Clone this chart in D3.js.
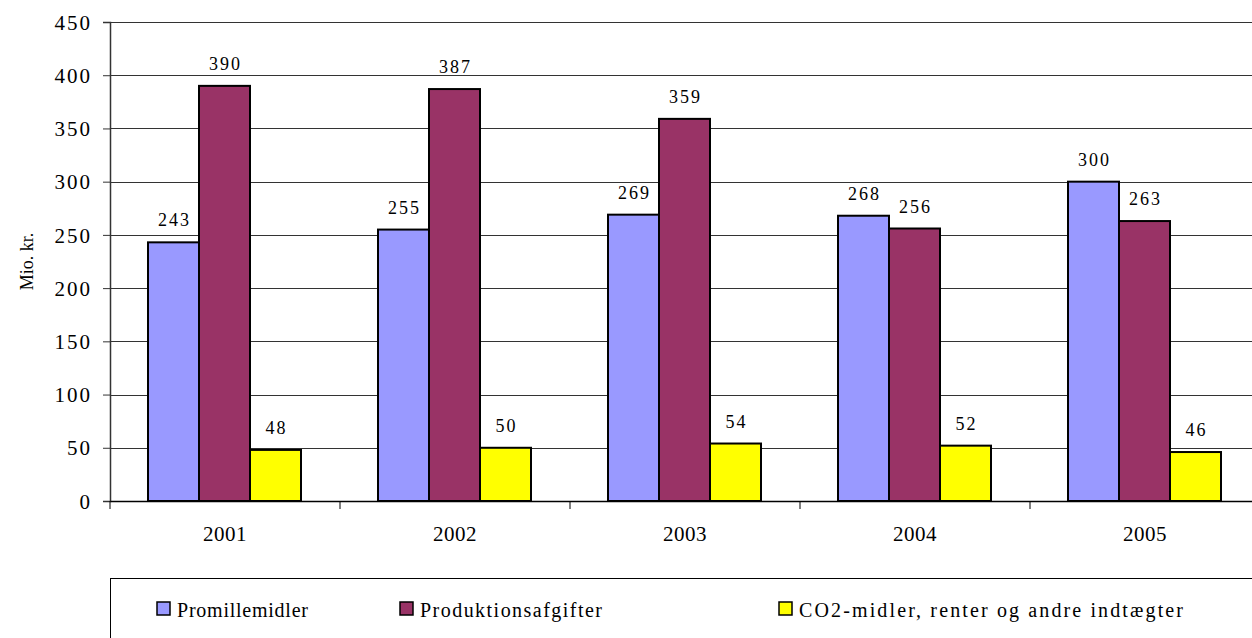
<!DOCTYPE html>
<html>
<head>
<meta charset="utf-8">
<script src="https://cdn.jsdelivr.net/npm/d3@7"></script>
<style>
  body { margin: 0; background: #fff; }
  svg text { font-family: "Liberation Serif", "Times New Roman", Tinos, "DejaVu Serif", serif; fill: #000; }
</style>
</head>
<body>
<svg id="chart" width="1252" height="638"></svg>
<script>
// data
const years = ["2001", "2002", "2003", "2004", "2005"];
const seriesNames = ["Promillemidler", "Produktionsafgifter", "CO2-midler, renter og andre indtægter"];
const promillemidler = [243, 255, 269, 268, 300];
const produktionsafgifter = [390, 387, 359, 256, 263];
const co2Midler = [48, 50, 54, 52, 46];
const yTicks = [0, 50, 100, 150, 200, 250, 300, 350, 400, 450];
const colors = ["#9999ff", "#993366", "#ffff00"];

const serif = "'Liberation Serif', 'Times New Roman', serif";
const svg = d3.select("#chart");
const plotLeft = 110, plotRight = 1260, plotTop = 22, plotBottom = 501;

const x = d3.scaleBand().domain(years).range([plotLeft, plotRight]);
const inner = d3.scaleBand().domain([0, 1, 2]).range([38, 38 + 153]);
const y = d3.scaleLinear().domain([0, 450]).range([plotBottom, plotTop]);

// gridlines
svg.append("g").selectAll("line").data(yTicks.filter(d => d > 0)).join("line")
  .attr("x1", plotLeft).attr("x2", plotRight)
  .attr("y1", d => Math.round(y(d)) + 0.5).attr("y2", d => Math.round(y(d)) + 0.5)
  .attr("stroke", "#333").attr("stroke-width", 1);

// y axis
const yAxis = svg.append("g").attr("transform", `translate(${plotLeft},0)`)
  .call(d3.axisLeft(y).tickValues(yTicks).tickSize(7).tickPadding(11));
yAxis.attr("font-family", serif);
yAxis.select(".domain").attr("stroke", "#333").attr("stroke-width", 1.5);
yAxis.selectAll(".tick line").attr("stroke", "#333");
yAxis.selectAll("text").style("font-size", "21px").style("letter-spacing", "2px")
  .attr("fill", "#000").attr("dy", "0.34em");

// x axis
const xAxis = svg.append("g").attr("transform", `translate(0,${plotBottom})`)
  .call(d3.axisBottom(x).tickSize(0).tickPadding(25));
xAxis.attr("font-family", serif);
xAxis.select(".domain").attr("stroke", "#000").attr("stroke-width", 1.5);
xAxis.selectAll("text").style("font-size", "21px").style("letter-spacing", "0.5px")
  .attr("fill", "#000");
// category separators
svg.append("g").selectAll("line").data(years.concat(["end"])).join("line")
  .attr("x1", (d, i) => plotLeft + i * x.bandwidth()).attr("x2", (d, i) => plotLeft + i * x.bandwidth())
  .attr("y1", plotBottom).attr("y2", plotBottom + 8)
  .attr("stroke", "#000").attr("stroke-width", 1);

// bars
const allSeries = [promillemidler, produktionsafgifter, co2Midler];
const barData = [];
years.forEach((yr, i) => allSeries.forEach((s, k) => barData.push({ yr, k, v: s[i] })));

svg.append("g").selectAll("rect").data(barData).join("rect")
  .attr("x", d => x(d.yr) + inner(d.k))
  .attr("y", d => y(d.v))
  .attr("width", inner.bandwidth())
  .attr("height", d => plotBottom - y(d.v))
  .attr("fill", d => colors[d.k])
  .attr("stroke", "#000").attr("stroke-width", 2);

svg.append("g").selectAll("text").data(barData).join("text")
  .attr("x", d => x(d.yr) + inner(d.k) + inner.bandwidth() / 2 + 1)
  .attr("y", d => y(d.v) - 16)
  .attr("text-anchor", "middle")
  .style("font-size", "18px").style("letter-spacing", "2px")
  .text(d => d.v);

// y axis title
svg.append("text")
  .attr("transform", `translate(33,${(plotTop + plotBottom) / 2}) rotate(-90)`)
  .attr("text-anchor", "middle")
  .style("font-size", "18px")
  .text("Mio. kr.");

// legend
svg.append("rect").attr("x", plotLeft + 0.5).attr("y", 578.5).attr("width", 1200).attr("height", 100)
  .attr("fill", "#fff").attr("stroke", "#000").attr("stroke-width", 1);
const legendX = [157, 400, 779];
const legendW = [131, 182, 384];
const lg = svg.append("g").selectAll("g").data(seriesNames).join("g")
  .attr("transform", (d, i) => `translate(${legendX[i]},602)`);
lg.append("rect").attr("width", 13).attr("height", 13)
  .attr("fill", (d, i) => colors[i]).attr("stroke", "#000").attr("stroke-width", 1.5);
lg.append("text").attr("x", 20).attr("y", 15)
  .style("font-size", "20px")
  .attr("textLength", (d, i) => legendW[i]).attr("lengthAdjust", "spacing")
  .text(d => d);
</script>
</body>
</html>
